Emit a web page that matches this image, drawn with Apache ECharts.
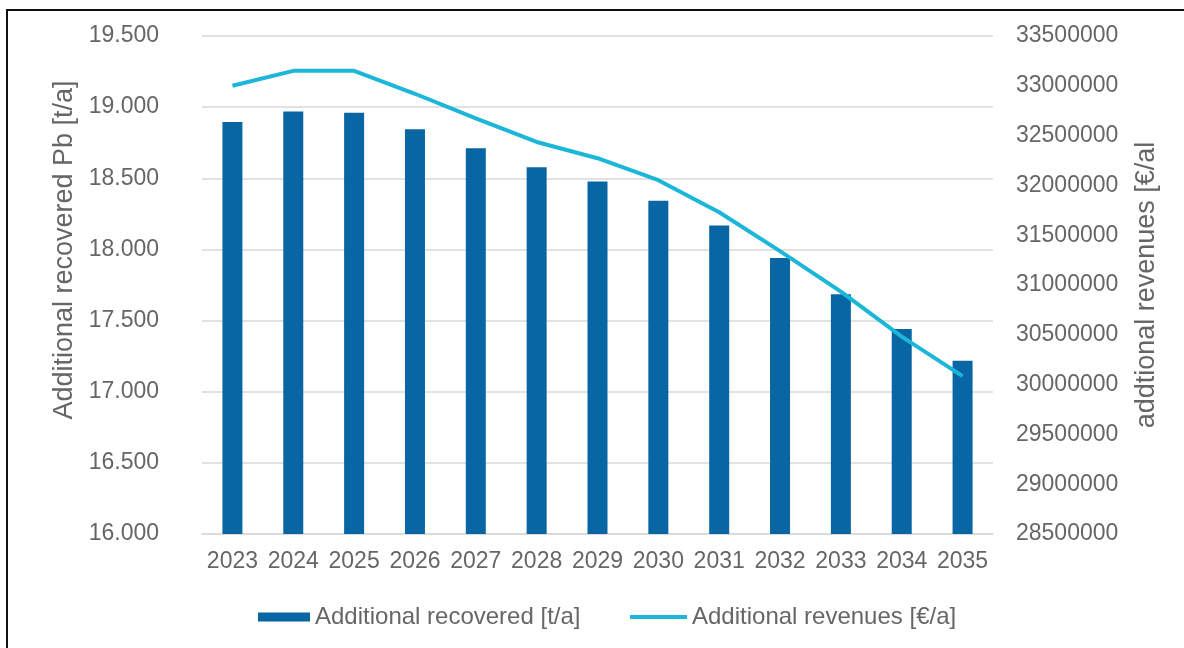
<!DOCTYPE html>
<html style="height: 100%">
<head>
    <meta charset="utf-8">
    <title>Additional recovered Pb</title>
    <style>
        body { margin: 0; background: #fff; }
        #container { position: absolute; left: 0; top: 0; width: 1184px; height: 648px; }
        #frame {
            position: absolute; left: 6px; top: 9px; right: 0; bottom: 0;
            border-top: 2px solid #111; border-left: 2px solid #111;
            pointer-events: none;
        }
    </style>
</head>
<body>
<div id="container"></div>
<div id="frame"></div>
<script type="text/javascript" src="https://cdn.jsdelivr.net/npm/echarts@6/dist/echarts.min.js"></script>
<script type="text/javascript">
    // data
    var years = ['2023', '2024', '2025', '2026', '2027', '2028', '2029', '2030', '2031', '2032', '2033', '2034', '2035'];
    var recovered = [18895, 18970, 18960, 18845, 18711, 18578, 18478, 18342, 18169, 17940, 17685, 17440, 17218];
    var revenues = [33000000, 33150000, 33150000, 32920000, 32673000, 32436000, 32273000, 32052000, 31731000, 31340000, 30933000, 30482000, 30085000];

    var textColor = '#666666';
    var font = 'Liberation Sans, Arial, sans-serif';

    // 19500 -> "19.500"
    function deNumber(v) {
        var rest = String(v % 1000);
        while (rest.length < 3) rest = '0' + rest;
        return Math.floor(v / 1000) + '.' + rest;
    }

    var myChart = echarts.init(document.getElementById('container'));
    var option = {
        animation: false,
        backgroundColor: '#ffffff',
        textStyle: { fontFamily: font },
        grid: { left: 202, right: 191, top: 36, bottom: 114 },
        // two legends so each icon gets its own size
        legend: [
            {
                left: 258,
                top: 605,
                padding: 0,
                itemWidth: 52,
                itemHeight: 9,
                textStyle: { color: textColor, fontSize: 24, fontFamily: font },
                data: [{ name: 'Additional recovered [t/a]', icon: 'rect' }]
            },
            {
                left: 630,
                top: 605,
                padding: 0,
                itemWidth: 57,
                itemHeight: 4,
                textStyle: { color: textColor, fontSize: 24, fontFamily: font },
                data: [{ name: 'Additional revenues [€/a]', icon: 'rect' }]
            }
        ],
        graphic: [
            {
                type: 'text', x: 65, y: 250, rotation: Math.PI / 2,
                style: { text: 'Additional recovered Pb [t/a]', fill: textColor, font: '27px ' + font, align: 'center', verticalAlign: 'middle' }
            },
            {
                type: 'text', x: 1147, y: 285, rotation: Math.PI / 2,
                style: { text: 'addtional revenues [€/al', fill: textColor, font: '27px ' + font, align: 'center', verticalAlign: 'middle' }
            }
        ],
        xAxis: {
            type: 'category',
            data: years,
            axisTick: { show: false },
            axisLine: { lineStyle: { color: '#d9d9d9', width: 1.5 } },
            axisLabel: { interval: 0, color: textColor, fontSize: 23, margin: 16 }
        },
        yAxis: [
            {
                type: 'value',
                min: 16000, max: 19500, interval: 500,
                axisLabel: { color: textColor, fontSize: 23, margin: 43, formatter: deNumber },
                splitLine: { lineStyle: { color: '#d9d9d9', width: 1.5 } }
            },
            {
                type: 'value',
                position: 'right',
                min: 28500000, max: 33500000, interval: 500000,
                axisLabel: {
                    color: textColor, fontSize: 23, margin: 23,
                    formatter: function (v) { return String(v); }
                },
                splitLine: { show: false }
            }
        ],
        series: [
            {
                name: 'Additional recovered [t/a]',
                type: 'bar',
                barWidth: 20,
                yAxisIndex: 0,
                itemStyle: { color: '#0766a3' },
                data: recovered
            },
            {
                name: 'Additional revenues [€/a]',
                type: 'line',
                yAxisIndex: 1,
                symbol: 'none',
                lineStyle: { color: '#1cb6d8', width: 4 },
                itemStyle: { color: '#1cb6d8' },
                data: revenues
            }
        ]
    };
    myChart.setOption(option, true);
</script>
</body>
</html>
